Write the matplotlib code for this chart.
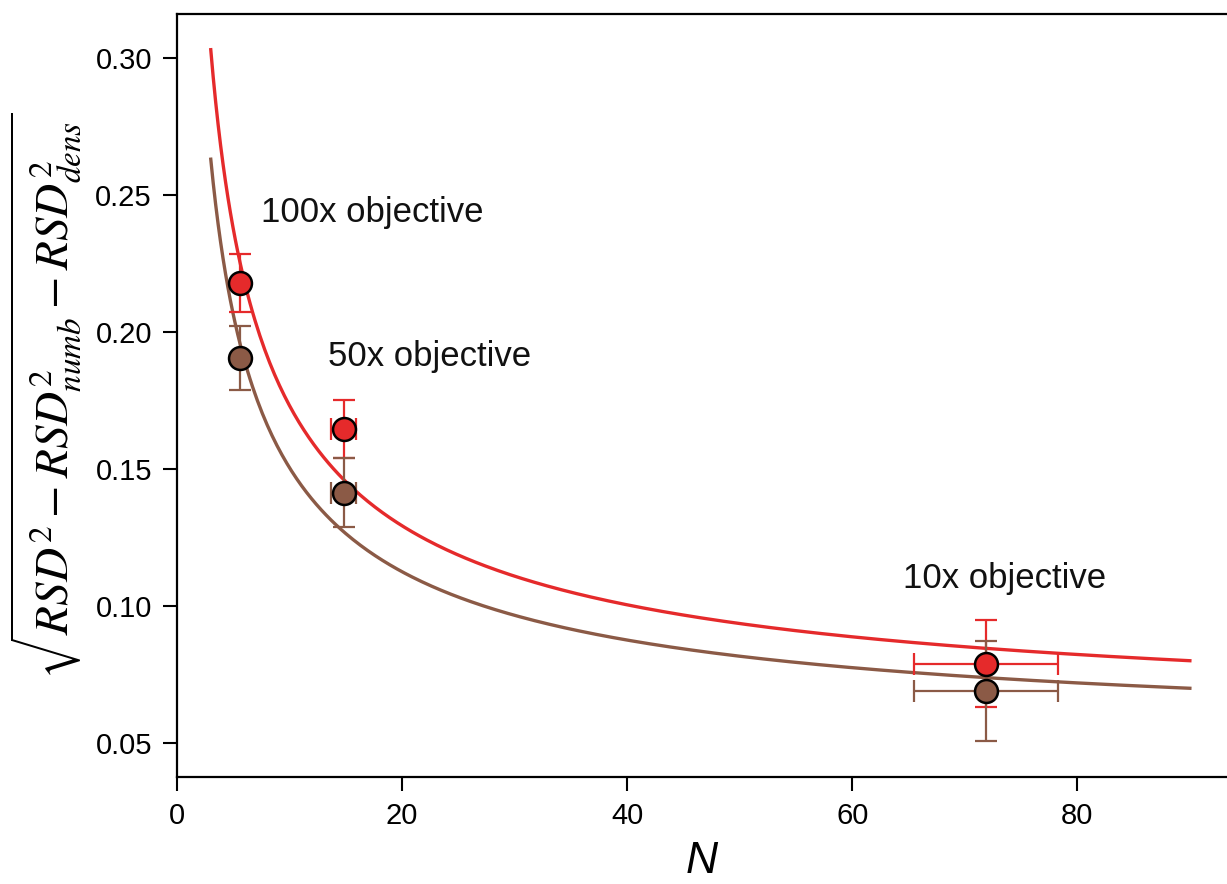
import numpy as np
import matplotlib
matplotlib.use("Agg")
import matplotlib.pyplot as plt

plt.rcParams['font.family'] = ['Liberation Sans', 'DejaVu Sans']
plt.rcParams['mathtext.fontset'] = 'stix'

# Data points (N, value, errors)
n_100x = 5.6
n_50x = 14.8
n_10x = 71.9
n_points = [n_100x, n_50x, n_10x]
n_err = [0.0, 1.1, 6.4]

red_vals = [0.2178, 0.1646, 0.0790]
red_err = [0.0105, 0.0105, 0.0160]
brown_vals = [0.1905, 0.1414, 0.0690]
brown_err = [0.0118, 0.0125, 0.0184]

# Fit parameters: y = sqrt(a2/N + b2)
red_fit = {'a2': 0.265, 'b2': 0.00346}
brown_fit = {'a2': 0.1995, 'b2': 0.00268}
fit_range = (3.0, 90.0)

labels = ['100x objective', '50x objective', '10x objective']
label_pos = [(7.5, 0.2435), (13.4, 0.1910), (64.5, 0.1100)]

RED = '#e52a2b'
BROWN = '#8b5a46'

fig = plt.figure(figsize=(12.27, 8.84), dpi=100)
ax = fig.add_axes([177/1227, 1 - 777/884, 1 - 177/1227, (777 - 14)/884])

nn = np.linspace(fit_range[0], fit_range[1], 400)
ax.plot(nn, np.sqrt(brown_fit['a2']/nn + brown_fit['b2']), color=BROWN, lw=2.4, zorder=2)
ax.plot(nn, np.sqrt(red_fit['a2']/nn + red_fit['b2']), color=RED, lw=2.4, zorder=2)

for vals, errs, col in [(red_vals, red_err, RED), (brown_vals, brown_err, BROWN)]:
    ax.errorbar(n_points, vals, yerr=errs, xerr=n_err, fmt='none', ecolor=col,
                elinewidth=1.6, capsize=8, capthick=1.6, zorder=3)
    ax.plot(n_points, vals, 'o', ms=16.5, mfc=col, mec='black', mew=1.8, zorder=4)

for txt, (x, y) in zip(labels, label_pos):
    ax.text(x, y, txt, fontsize=25, ha='left', va='center', color='#111111')

ax.set_xlim(0, 93.3)
ax.set_ylim(0.0376, 0.316)
ax.set_xticks([0, 20, 40, 60, 80])
ax.set_yticks([0.05, 0.10, 0.15, 0.20, 0.25, 0.30])
ax.set_yticklabels(['0.05', '0.10', '0.15', '0.20', '0.25', '0.30'])
ax.tick_params(axis='both', direction='out', length=10, width=1.5, labelsize=21, pad=8)
ax.spines['right'].set_visible(False)
for s in ['left', 'bottom', 'top']:
    ax.spines[s].set_linewidth(1.6)

ax.set_xlabel('N', fontsize=32, style='italic', labelpad=8)
ax.set_ylabel(r'$\sqrt{RSD^2-RSD^2_{numb}-RSD^2_{dens}}$', fontsize=34, labelpad=8)

fig.savefig('out.png', dpi=100)
